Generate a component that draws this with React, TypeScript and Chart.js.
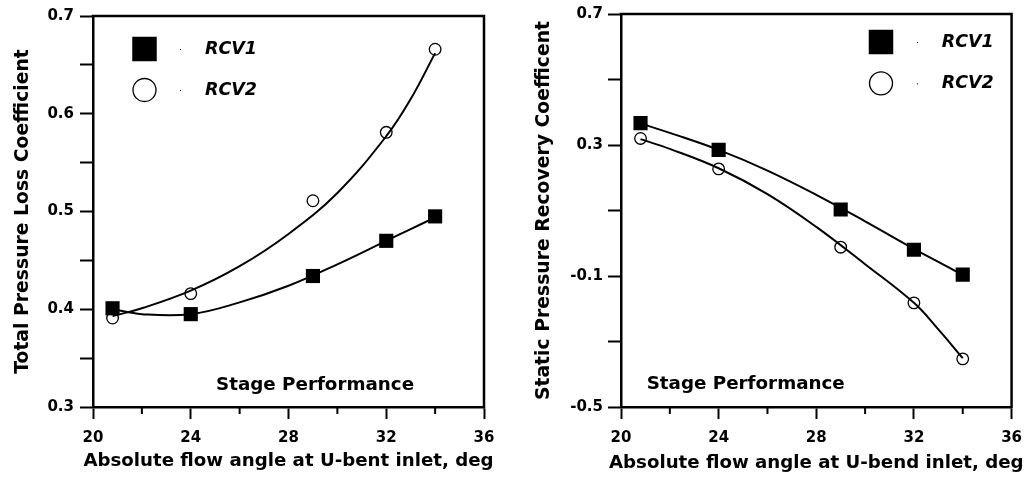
import React, { useEffect, useRef } from 'react';
import { Chart, registerables } from 'chart.js';

Chart.register(...registerables);

// ---------- data (measured points) ----------
const flowAngles = [20.8, 24, 29, 32, 34];
const lossRCV1 = [0.401, 0.395, 0.434, 0.47, 0.495];
const lossRCV2 = [0.391, 0.416, 0.511, 0.581, 0.666];
const recoveryRCV1 = [0.367, 0.285, 0.103, -0.02, -0.096];
const recoveryRCV2 = [0.32, 0.227, -0.012, -0.182, -0.353];

// ---------- fitted trend lines ----------
const fitAngles = [20.8, 22, 24, 26, 28, 30, 32, 33, 34];
const lossFitRCV1 = [0.4, 0.395, 0.395, 0.407, 0.424, 0.446, 0.47, 0.482, 0.494];
const lossFitRCV2 = [0.393, 0.401, 0.419, 0.444, 0.477, 0.519, 0.577, 0.615, 0.662];
const recoveryFitRCV1 = [0.366, 0.337, 0.285, 0.222, 0.148, 0.067, -0.017, -0.057, -0.097];
const recoveryFitRCV2 = [0.318, 0.288, 0.229, 0.15, 0.05, -0.064, -0.182, -0.263, -0.351];

const seriesNames = ['RCV1', 'RCV2'];
const annotationText = 'Stage Performance';
const leftXTitle = 'Absolute flow angle at U-bent inlet, deg';
const rightXTitle = 'Absolute flow angle at U-bend inlet, deg';
const leftYTitle = 'Total Pressure Loss Coefficient';
const rightYTitle = 'Static Pressure Recovery Coefficent';

const FONT = "'DejaVu Sans', 'Liberation Sans', sans-serif";

type PanelCfg = {
  y1: number[];
  y2: number[];
  fit1: number[];
  fit2: number[];
  yMin: number;
  yMax: number;
  yStep: number;
  xTitle: string;
  yTitle: string;
  padTop: number;
  padRight: number;
  yAxisWidth: number;
  yTitlePad: number;
  xTitleBaseline: number;
  yTickPad: number;
  legend: { x: number; y1: number; y2: number; dotX: number; textX: number };
  note: { x: number; y: number };
};

function makeConfig(p: PanelCfg): any {
  const decor = {
    id: 'decor',
    afterDraw(chart: any) {
      const { ctx, chartArea: a, scales } = chart;
      ctx.save();
      ctx.strokeStyle = '#000';
      ctx.lineWidth = 2.5;
      ctx.beginPath();
      ctx.moveTo(a.left - 1.25, a.top);
      ctx.lineTo(a.right, a.top);
      ctx.lineTo(a.right, a.bottom + 1.25);
      ctx.stroke();
      // minor x ticks (shorter)
      ctx.lineWidth = 2;
      for (const t of scales.x.ticks) {
        if (Math.round(t.value) % 4 !== 0) {
          const x = scales.x.getPixelForValue(t.value);
          ctx.beginPath();
          ctx.moveTo(x, a.bottom);
          ctx.lineTo(x, a.bottom + 7);
          ctx.stroke();
        }
      }
      // x axis title (drawn without width compression)
      ctx.fillStyle = '#000';
      ctx.font = `bold 18.2px ${FONT}`;
      ctx.textAlign = 'center';
      ctx.textBaseline = 'alphabetic';
      ctx.fillText(p.xTitle, (a.left + a.right) / 2, p.xTitleBaseline);
      // legend
      const L = p.legend;
      ctx.fillRect(L.x - 12.25, L.y1 - 12.25, 24.5, 24.5);
      ctx.lineWidth = 1.3;
      ctx.beginPath();
      ctx.arc(L.x, L.y2, 11.5, 0, Math.PI * 2);
      ctx.stroke();
      ctx.fillRect(L.dotX, L.y1, 1, 1);
      ctx.fillRect(L.dotX, L.y2, 1, 1);
      ctx.font = `italic bold 17.5px ${FONT}`;
      ctx.textAlign = 'left';
      ctx.textBaseline = 'middle';
      ctx.fillText(seriesNames[0], L.textX, L.y1);
      ctx.fillText(seriesNames[1], L.textX, L.y2);
      // annotation
      ctx.font = `bold 18.3px ${FONT}`;
      ctx.textBaseline = 'alphabetic';
      ctx.fillText(annotationText, p.note.x, p.note.y);
      ctx.restore();
    },
  };

  const tickFont = { family: FONT, size: 15, weight: 'bold' as const };

  return {
    type: 'line',
    data: {
      datasets: [
        {
          label: seriesNames[0],
          data: flowAngles.map((x, i) => ({ x, y: p.y1[i] })),
          showLine: false,
          pointStyle: 'rect',
          pointRadius: 10,
          pointBackgroundColor: '#000',
          pointBorderColor: '#000',
          pointBorderWidth: 0,
        },
        {
          label: seriesNames[1],
          data: flowAngles.map((x, i) => ({ x, y: p.y2[i] })),
          showLine: false,
          pointStyle: 'circle',
          pointRadius: 5.8,
          pointBackgroundColor: 'rgba(0,0,0,0)',
          pointBorderColor: '#000',
          pointBorderWidth: 1.3,
        },
        {
          label: seriesNames[0] + ' fit',
          data: fitAngles.map((x, i) => ({ x, y: p.fit1[i] })),
          borderColor: '#000',
          borderWidth: 2,
          tension: 0.4,
          pointRadius: 0,
        },
        {
          label: seriesNames[1] + ' fit',
          data: fitAngles.map((x, i) => ({ x, y: p.fit2[i] })),
          borderColor: '#000',
          borderWidth: 2,
          tension: 0.4,
          pointRadius: 0,
        },
      ],
    },
    options: {
      responsive: false,
      maintainAspectRatio: false,
      animation: false,
      events: [],
      layout: { padding: { left: 0, top: p.padTop, right: p.padRight, bottom: 0 } },
      plugins: {
        legend: { display: false },
        tooltip: { enabled: false },
        title: { display: false },
      },
      scales: {
        x: {
          type: 'linear',
          min: 20,
          max: 36,
          afterFit: (s: any) => {
            s.height = 70;
          },
          ticks: {
            stepSize: 2,
            autoSkip: false,
            maxRotation: 0,
            padding: 10,
            color: '#000',
            font: tickFont,
            callback: (v: any) => (Math.round(v) % 4 === 0 ? String(Math.round(v)) : ''),
          },
          grid: {
            drawOnChartArea: false,
            drawTicks: true,
            tickLength: 12,
            tickWidth: 2,
            tickColor: (c: any) =>
              c.tick && Math.round(c.tick.value) % 4 === 0 ? '#000' : 'rgba(0,0,0,0)',
          },
          border: { display: true, color: '#000', width: 2.5 },
          title: { display: false },
        },
        y: {
          type: 'linear',
          min: p.yMin,
          max: p.yMax,
          afterFit: (s: any) => {
            s.width = p.yAxisWidth;
          },
          ticks: {
            stepSize: p.yStep,
            autoSkip: false,
            padding: p.yTickPad,
            color: '#000',
            font: tickFont,
            callback: (v: any, i: number) => (i % 2 === 0 ? Number(v).toFixed(1) : ''),
          },
          grid: {
            drawOnChartArea: false,
            drawTicks: true,
            tickLength: 13,
            tickWidth: 2,
            tickColor: '#000',
          },
          border: { display: true, color: '#000', width: 2.5 },
          title: {
            display: true,
            text: p.yTitle,
            color: '#000',
            font: { family: FONT, size: 18.8, weight: 'bold' },
            padding: { top: p.yTitlePad, bottom: 0 },
          },
        },
      },
    },
    plugins: [decor],
  };
}

const leftPanel: PanelCfg = {
  y1: lossRCV1,
  y2: lossRCV2,
  fit1: lossFitRCV1,
  fit2: lossFitRCV2,
  yMin: 0.3,
  yMax: 0.7,
  yStep: 0.05,
  xTitle: leftXTitle,
  yTitle: leftYTitle,
  padTop: 16,
  padRight: 32,
  yAxisWidth: 93,
  yTitlePad: 12,
  xTitleBaseline: 465.5,
  yTickPad: 6,
  legend: { x: 144.5, y1: 49, y2: 90, dotX: 180, textX: 205 },
  note: { x: 216, y: 390 },
};

const rightPanel: PanelCfg = {
  y1: recoveryRCV1,
  y2: recoveryRCV2,
  fit1: recoveryFitRCV1,
  fit2: recoveryFitRCV2,
  yMin: -0.5,
  yMax: 0.7,
  yStep: 0.2,
  xTitle: rightXTitle,
  yTitle: rightYTitle,
  padTop: 13,
  padRight: 16,
  yAxisWidth: 105,
  yTitlePad: 17,
  xTitleBaseline: 467.5,
  yTickPad: 5,
  legend: { x: 365, y1: 42, y2: 83.3, dotX: 401, textX: 425.7 },
  note: { x: 130.7, y: 389 },
};

function Panel({ cfg }: { cfg: PanelCfg }) {
  const ref = useRef<HTMLCanvasElement | null>(null);
  useEffect(() => {
    if (!ref.current) return;
    const chart = new Chart(ref.current, makeConfig(cfg));
    return () => chart.destroy();
  }, [cfg]);
  return (
    <canvas
      ref={ref}
      width={516}
      height={477}
      style={{ display: 'block', width: 516, height: 477 }}
    />
  );
}

export default function App() {
  return (
    <div
      style={{
        position: 'absolute',
        left: 0,
        top: 0,
        width: 1032,
        height: 477,
        display: 'flex',
        background: '#fff',
      }}
    >
      <Panel cfg={leftPanel} />
      <Panel cfg={rightPanel} />
    </div>
  );
}
